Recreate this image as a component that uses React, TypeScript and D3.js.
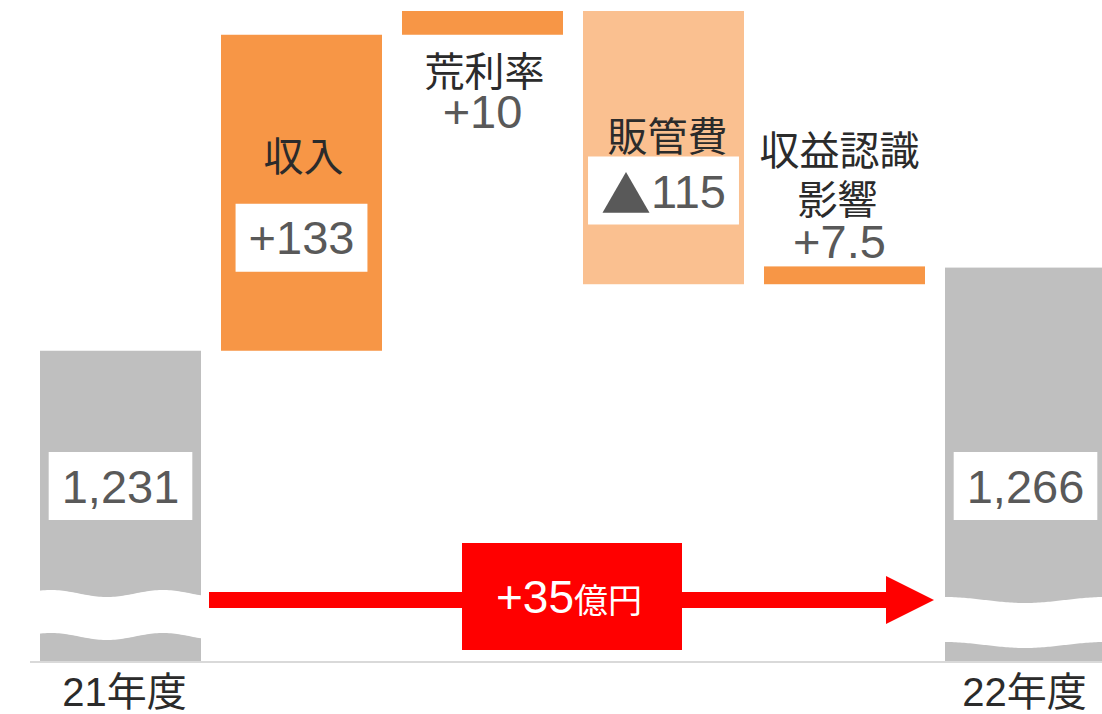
import { useRef, useEffect } from "react";
import * as d3 from "d3";

// chart values
const categories = ["21年度", "収入", "荒利率", "販管費", "収益認識影響", "22年度"];
const startValue = 1231;
const endValue = 1266;
const deltas = [133, 10, -115, 7.5];
const deltaLabels = ["+133", "+10", "▲115", "+7.5"];
const totalLabels = ["1,231", "1,266"];
const changeLabel = "+35";
const unitLabel = "億円";
const axisBase = 1100; // broken axis: bars start here
const axisTop = 1374;

const W = 1102;
const H = 714;
const NUM_FONT = "'Liberation Sans', Arial, 'Noto Sans CJK JP', sans-serif";
const JP_FONT = "'Noto Sans CJK JP', 'Liberation Sans', sans-serif";
const GRAY = "#BFBFBF";
const ORANGE = "#F79646";
const LIGHT_ORANGE = "#FAC090";
const RED = "#FF0000";
const TEXT_DARK = "#2b2b2b";
const TEXT_NUM = "#595959";

export default function App() {
  const svgRef = useRef(null);

  function renderChart() {
    const svg = d3.select(svgRef.current);
    svg.selectAll("*").remove();
    svg.attr("width", W).attr("height", H);

    const x = d3
      .scaleBand()
      .domain(categories)
      .range([40, 1106])
      .paddingInner(20 / 181)
      .paddingOuter(0);
    const y = d3.scaleLinear().domain([axisBase, axisTop]).range([662, 11]);
    const bw = x.bandwidth();

    // build waterfall segments
    const bars: any[] = [{ name: categories[0], from: axisBase, to: startValue, kind: "total" }];
    let run = startValue;
    deltas.forEach((d, i) => {
      bars.push({ name: categories[i + 1], from: run, to: run + d, kind: d >= 0 ? "up" : "down" });
      run += d;
    });
    bars.push({ name: categories[5], from: axisBase, to: endValue, kind: "total" });

    const fill = (k: string) => (k === "total" ? GRAY : k === "up" ? ORANGE : LIGHT_ORANGE);

    svg
      .append("g")
      .selectAll("rect")
      .data(bars)
      .join("rect")
      .attr("x", (d) => x(d.name)!)
      .attr("width", bw)
      .attr("y", (d) => y(Math.max(d.from, d.to)))
      .attr("height", (d) => Math.abs(y(d.from) - y(d.to)))
      .attr("fill", (d) => fill(d.kind));

    // wavy break bands on the total bars
    const breaks = [
      { name: categories[0], mid: 593.5, amp: 3.5, period: 112, phase: 123, gap: 43 },
      { name: categories[5], mid: 600, amp: 3, period: 160, phase: 0, gap: 45 },
    ];
    breaks.forEach((b) => {
      const x0 = x(b.name)! - 1;
      const x1 = x(b.name)! + bw + 1;
      const xs = d3.range(x0, x1 + 0.1, 2);
      const edge = (px: number) =>
        b.mid - b.amp * Math.cos((2 * Math.PI * (px - x(b.name)! - b.phase)) / b.period);
      const pts: [number, number][] = xs.map((px) => [px, edge(px)]);
      const low: [number, number][] = xs
        .slice()
        .reverse()
        .map((px) => [px, edge(px) + b.gap]);
      svg
        .append("path")
        .attr("d", d3.line()([...pts, ...low]) + "Z")
        .attr("fill", "#fff");
    });

    // baseline
    svg
      .append("line")
      .attr("x1", 30)
      .attr("x2", W)
      .attr("y1", y(axisBase))
      .attr("y2", y(axisBase))
      .attr("stroke", "#D9D9D9")
      .attr("stroke-width", 2);

    const boxedNumber = (cx: number, cy: number, label: string) => {
      const g = svg.append("g");
      const rect = g.append("rect").attr("fill", "#fff");
      const t = g
        .append("text")
        .attr("x", cx)
        .attr("y", cy)
        .attr("text-anchor", "middle")
        .attr("dominant-baseline", "central")
        .attr("font-family", NUM_FONT)
        .attr("font-size", 47)
        .attr("fill", TEXT_NUM);
      if (label.startsWith("▲")) {
        t.append("tspan").attr("font-family", JP_FONT).attr("font-size", 50).text("▲");
        t.append("tspan").text(label.slice(1));
      } else {
        t.text(label);
      }
      const bb = (t.node() as SVGTextElement).getBBox();
      rect
        .attr("x", bb.x - 13)
        .attr("width", bb.width + 26)
        .attr("y", cy - 34)
        .attr("height", 68);
    };

    const plainText = (cx: number, cy: number, label: string, size: number, color: string, font: string) =>
      svg
        .append("text")
        .attr("x", cx)
        .attr("y", cy)
        .attr("text-anchor", "middle")
        .attr("dominant-baseline", "central")
        .attr("font-family", font)
        .attr("font-size", size)
        .attr("fill", color)
        .text(label);

    // totals
    [bars[0], bars[5]].forEach((b, i) => {
      boxedNumber(x(b.name)! + bw / 2, 486, totalLabels[i]);
      plainText(x(b.name)! + bw / 2 + (i === 0 ? 4 : -1), 692, b.name, 40, TEXT_DARK, NUM_FONT);
    });

    // delta labels
    const layout = [
      { inside: true, nameDy: 119, valueDy: 203, dx: 2 },
      { inside: false, below: true, nameDy: 34, valueDy: 77, dx: 2 },
      { inside: true, nameDy: 122.5, valueDy: 179.5, dx: 4 },
      { inside: false, below: false, nameDy: -118, valueDy: -25, dx: -5 },
    ];
    deltas.forEach((d, i) => {
      const b = bars[i + 1];
      const cx = x(b.name)! + bw / 2;
      const top = y(Math.max(b.from, b.to));
      const bottom = y(Math.min(b.from, b.to));
      const L: any = layout[i];
      if (L.inside) {
        plainText(cx + L.dx, top + L.nameDy, b.name, 40, TEXT_DARK, JP_FONT);
        boxedNumber(cx, top + L.valueDy, deltaLabels[i]);
      } else if (L.below) {
        plainText(cx + L.dx, bottom + L.nameDy, b.name, 40, TEXT_DARK, JP_FONT);
        plainText(cx, bottom + L.valueDy, deltaLabels[i], 47, TEXT_NUM, NUM_FONT);
      } else {
        const lines = [b.name.slice(0, 4), b.name.slice(4)];
        plainText(cx + L.dx, top + L.nameDy, lines[0], 40, TEXT_DARK, JP_FONT);
        plainText(cx + L.dx - 2, top + L.nameDy + 48.5, lines[1], 40, TEXT_DARK, JP_FONT);
        plainText(cx + L.dx, top + L.valueDy, deltaLabels[i], 47, TEXT_NUM, NUM_FONT);
      }
    });

    // change arrow
    const ay = 600;
    const ax0 = x(categories[0])! + bw + 8;
    const tip = x(categories[5])! - 11;
    const headBase = tip - 48;
    svg
      .append("path")
      .attr(
        "d",
        `M${ax0},${ay - 8}H${headBase}V${ay - 24}L${tip},${ay}L${headBase},${ay + 24}V${ay + 8}H${ax0}Z`
      )
      .attr("fill", RED);
    svg
      .append("rect")
      .attr("x", 462)
      .attr("y", 543)
      .attr("width", 220)
      .attr("height", 107)
      .attr("fill", RED);
    const ct = svg
      .append("text")
      .attr("x", 569)
      .attr("y", 613)
      .attr("text-anchor", "middle")
      .attr("fill", "#fff");
    ct.append("tspan").attr("font-family", NUM_FONT).attr("font-size", 46).text(changeLabel);
    ct.append("tspan").attr("font-family", JP_FONT).attr("font-size", 34).text(unitLabel);
  }

  useEffect(() => {
    renderChart();
  }, []);

  return (
    <div>
      <svg ref={svgRef} style={{ position: "absolute", left: 0, top: 0, display: "block" }} />
    </div>
  );
}
